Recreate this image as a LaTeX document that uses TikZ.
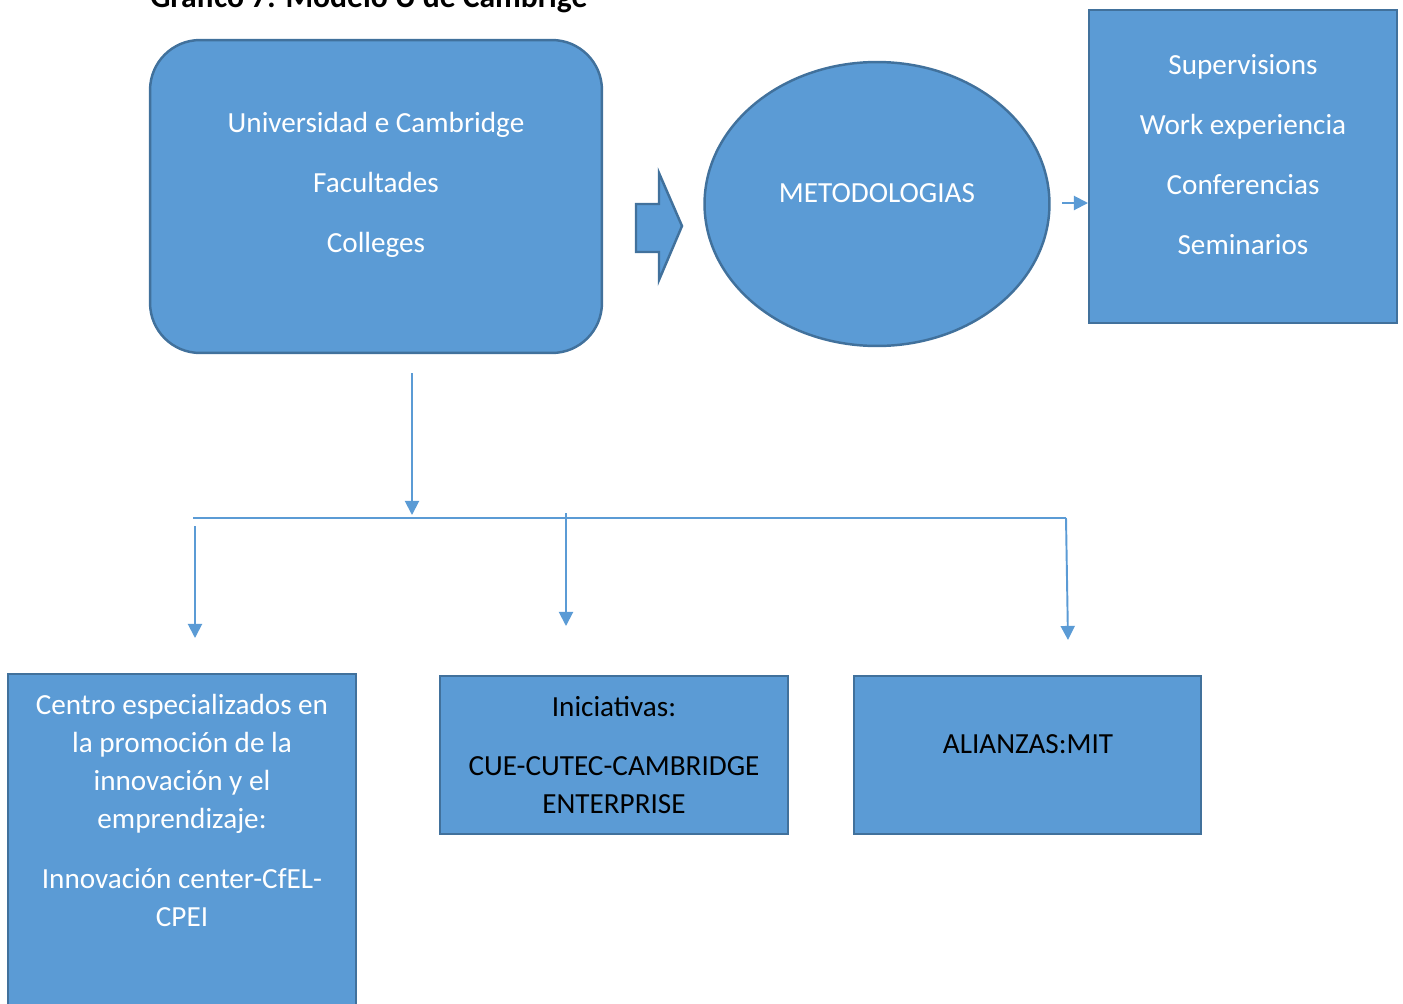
\documentclass[tikz,border=0pt]{standalone}
\usepackage{fontspec}
\setmainfont{Carlito}
\usetikzlibrary{arrows.meta,shapes.geometric}
\definecolor{boxblue}{RGB}{91,155,213}
\definecolor{boxedge}{RGB}{65,113,156}
\tikzset{
  bluebox/.style={draw=boxedge, fill=boxblue, line width=1.4pt, inner sep=0pt},
  linkline/.style={draw=boxblue, line width=1.1pt, -{Triangle[width=8pt,length=8pt]}},
  boxtext/.style={align=center, inner sep=0pt, font=\fontsize{16.6}{21.6}\selectfont},
}
\begin{document}
\begin{tikzpicture}[x=0.02cm, y=-0.02cm]
\clip (0,0) rectangle (1403,1004);
% title, cut by the page edge
\node[anchor=base west, inner sep=0pt, font=\fontsize{18}{20}\selectfont\bfseries] (title) at (150,8) {Gráfico 7: Modelo U de Cambrige};
% top row
\node[bluebox, rounded corners=1cm, minimum width=9.04cm, minimum height=6.26cm] (uni) at (376,196.5) {};
\node[boxtext, text=white] (unitext) at (376,184.5) {Universidad e Cambridge\\[12.5pt]Facultades\\[12.5pt]Colleges};
\draw[bluebox] (636,204)--(659,204)--(659,173)--(682,226)--(659,280)--(659,252)--(636,252)--cycle;
\node[bluebox, ellipse, minimum width=6.9cm, minimum height=5.68cm] (metodo) at (877,204) {};
\node[boxtext, text=white] (metodotext) at (877,193.5) {METODOLOGIAS};
\node[bluebox, minimum width=6.16cm, minimum height=6.26cm] (activ) at (1243,166.5) {};
\node[boxtext, text=white] (activtext) at (1243,154.5) {Supervisions\\[12.5pt]Work experiencia\\[12.5pt]Conferencias\\[12.5pt]Seminarios};
% bottom row
\node[bluebox, minimum width=6.96cm, minimum height=7.4cm] (centro) at (182,859) {};
\node[boxtext, text=white] (centrotext) at (182,810.5) {Centro especializados en\\la promoción de la\\innovación y el\\emprendizaje:\\[12.5pt]Innovación center-CfEL-\\CPEI};
\node[bluebox, minimum width=6.96cm, minimum height=3.16cm] (inic) at (614,755) {};
\node[boxtext] (inictext) at (614,755) {Iniciativas:\\[12.5pt]CUE-CUTEC-CAMBRIDGE\\ENTERPRISE};
\node[bluebox, minimum width=6.94cm, minimum height=3.16cm] (alianza) at (1027.5,755) {};
\node[boxtext] (alianzatext) at (1028,744.5) {ALIANZAS:MIT};
% connectors
\coordinate (ua) at (412,373);
\coordinate (ub) at (412,515);
\coordinate (bl) at (193,518);
\coordinate (br) at (1066,518);
\coordinate (la) at (195,526);
\coordinate (lb) at (195,638);
\coordinate (ma) at (566,513);
\coordinate (mb) at (566,626);
\coordinate (rb) at (1068,640);
\coordinate (sa) at (1062,203);
\coordinate (sb) at (1088,203);
\draw[linkline] (ua) -- (ub);
\draw[draw=boxblue, line width=1.1pt] (bl) -- (br);
\draw[linkline] (la) -- (lb);
\draw[linkline] (ma) -- (mb);
\draw[linkline] (br) -- (rb);
\draw[linkline] (sa) -- (sb);
\end{tikzpicture}
\end{document}
